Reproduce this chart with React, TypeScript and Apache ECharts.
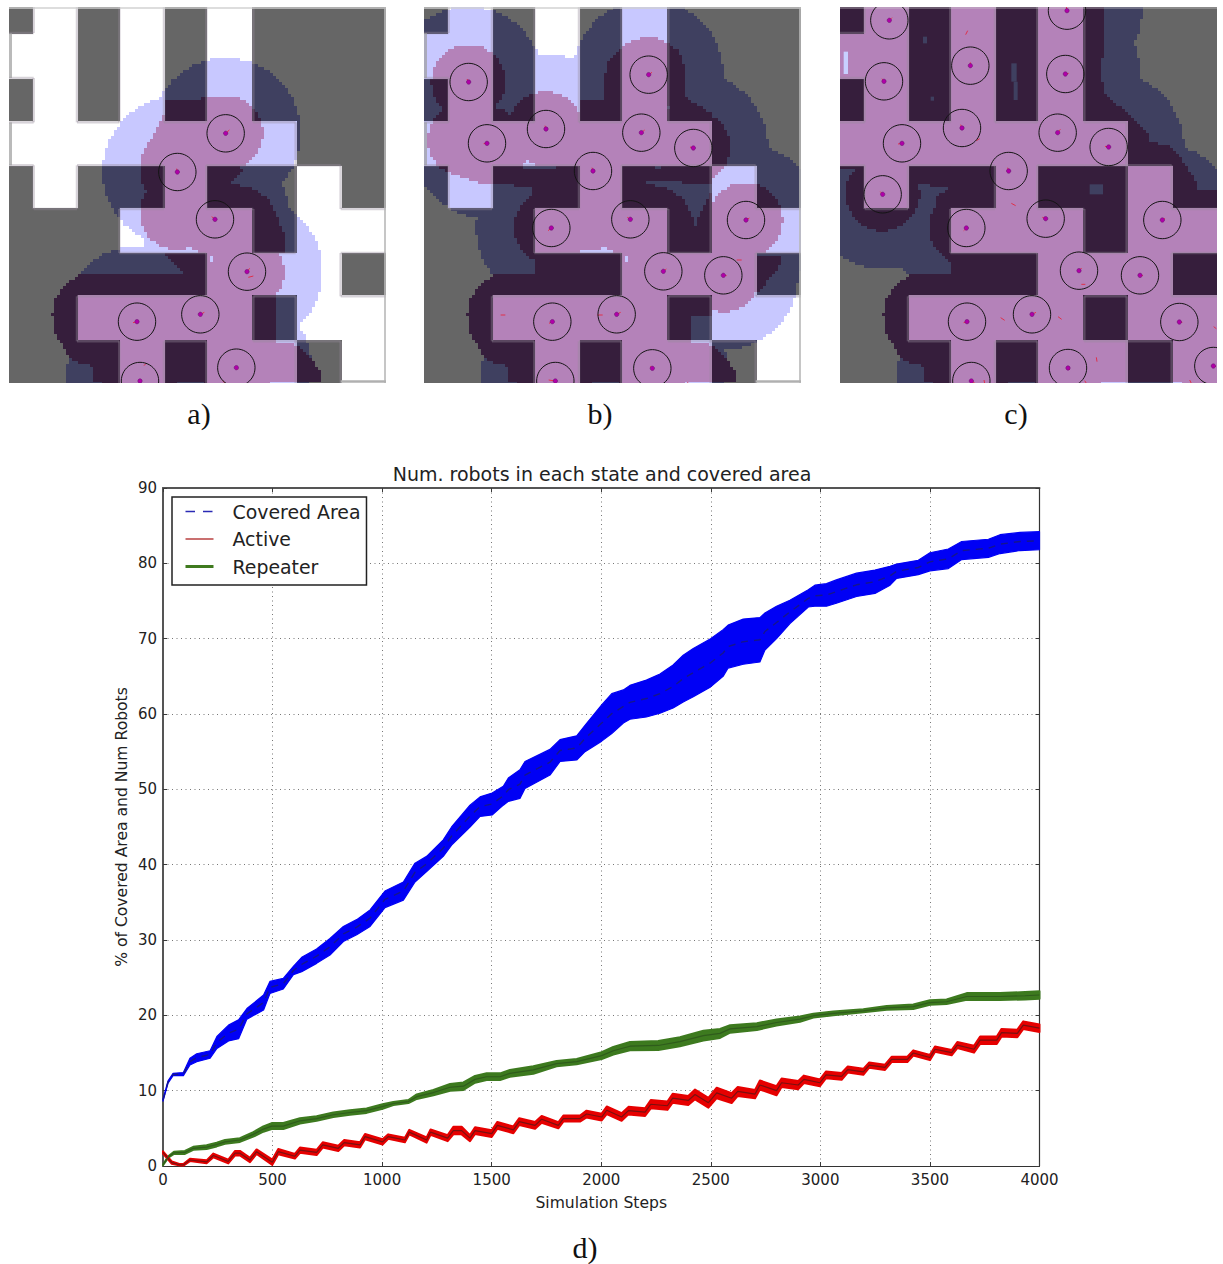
import React, { useEffect, useRef } from "react";
import * as echarts from "echarts";

// ---------- chart d) values ----------
const blueX = [0,23,46,93,123,154,215,246,299,345,383,459,488,549,595,633,701,762,823,884,945,1013,1097,1150,1203,1279,1317,1401,1447,1502,1553,1576,1629,1652,1766,1812,1888,1926,2002,2048,2101,2131,2206,2268,2328,2374,2420,2499,2556,2579,2648,2724,2747,2800,2861,2945,2975,3028,3073,3165,3249,3318,3348,3447,3500,3584,3645,3767,3820,3911,4000];
const blueUpper = [8.9,11.3,12.3,12.4,14.3,14.9,15.3,17.2,18.7,19.4,20.9,22.7,24.5,24.9,26.5,27.7,28.8,30.2,31.8,32.7,34,36.5,37.7,40.2,41.1,43.3,45,47.9,49,49.5,50.4,51.5,52.6,53.7,55.3,56.6,57.1,58.5,61.2,62.7,63.2,63.8,64.5,65.3,66.5,67.8,68.7,70,71.2,71.8,72.6,72.8,73.4,74.3,75.1,76.5,77.1,77.3,77.8,78.7,79.1,79.6,79.9,80.4,81.4,81.9,82.9,83.2,83.8,84.1,84.2];
const blueLower = [8.6,11,12,12,13.4,13.85,14.3,15.6,16.6,16.9,19.5,20.7,22.9,23.5,25.4,25.8,26.9,28,29.8,30.7,31.8,34.3,35.3,37.7,39.1,41.1,42.6,45,46.4,46.6,47.9,48.4,48.8,50.1,51.9,53.7,53.9,55,56.4,57.4,58.8,59.3,59.6,60.1,60.8,61.6,62.3,63.6,65,66.1,66.6,66.9,68.5,70,72,74.2,74.3,74.3,74.7,75.6,76,77.1,78,78.5,79,79.3,80.5,80.8,81.3,81.7,81.8];
const blueMean = [8.75,11.15,12.15,12.2,13.85,14.4,14.8,16.4,17.65,18.15,20.2,21.7,23.7,24.2,25.95,26.75,27.85,29.1,30.8,31.7,32.9,35.4,36.5,39,40.1,42.2,43.8,46.45,47.7,48.05,49.15,49.95,50.7,51.9,53.6,55.15,55.5,56.75,58.8,60.05,61,61.55,62.05,62.7,63.65,64.7,65.5,66.8,68.1,68.95,69.6,69.85,70.95,72.15,73.55,75.35,75.7,75.8,76.25,77.15,77.55,78.35,78.95,79.45,80.2,80.6,81.7,82,82.55,82.9,83];

const redX = [0,40,78,93,123,199,230,298,329,351,397,427,499,526,602,625,701,729,800,827,899,922,1002,1028,1104,1124,1203,1221,1299,1325,1363,1401,1424,1500,1526,1599,1626,1698,1728,1804,1827,1903,1933,2002,2025,2093,2124,2200,2226,2302,2326,2397,2428,2489,2527,2595,2623,2702,2724,2800,2823,2899,2925,2998,3026,3097,3125,3196,3223,3295,3325,3397,3424,3500,3523,3599,3625,3701,3729,3805,3827,3899,3926,4000];
const redMean = [1.8,.45,.15,.15,.8,.55,1.4,.6,1.7,1.7,.8,1.9,.5,1.9,1.3,2.1,1.8,2.8,2.35,3.1,2.8,3.9,3.2,3.9,3.45,4.5,3.45,4.5,3.7,4.7,4.7,3.7,4.7,4.3,5.4,4.8,5.9,5.4,6.2,5.4,6.3,6.3,6.9,6.5,7.4,6.5,7.35,7.15,8.2,8,9,8.7,9.5,8.4,9.7,9,9.9,9.55,10.75,10,11.05,10.75,11.5,11.05,12.1,11.9,12.8,12.5,13.4,13.1,14.15,14.15,15,14.4,15.5,15.05,16.05,15.5,16.7,16.7,17.7,17.6,18.7,18.3];
const redSpread = [.15,.15,.1,.1,.15,.2,.25,.25,.3,.3,.3,.3,.35,.35,.3,.35,.35,.35,.35,.35,.35,.35,.35,.3,.3,.3,.35,.35,.4,.5,.5,.4,.45,.45,.45,.45,.45,.45,.45,.4,.4,.4,.45,.45,.5,.5,.5,.5,.55,.55,.6,.6,.65,.65,.7,.65,.6,.55,.6,.6,.55,.55,.5,.45,.45,.45,.4,.4,.35,.35,.35,.35,.35,.35,.35,.35,.4,.45,.5,.5,.5,.5,.5,.5];

const greenX = [0,24,50,100,138,199,245,283,351,412,458,496,549,625,701,777,853,929,1002,1051,1120,1158,1234,1310,1371,1424,1477,1538,1583,1690,1796,1888,2002,2055,2131,2260,2359,2466,2542,2588,2710,2800,2907,2968,3059,3196,3303,3424,3500,3576,3668,3820,3934,4000];
const greenMean = [.15,1.2,1.75,1.8,2.35,2.5,2.85,3.2,3.45,4.2,4.9,5.3,5.3,6,6.3,6.8,7.1,7.35,7.9,8.3,8.55,9.2,9.75,10.45,10.6,11.5,11.85,11.85,12.3,12.75,13.6,13.85,14.65,15.3,15.9,16,16.5,17.3,17.6,18.2,18.5,19.05,19.5,19.95,20.25,20.6,21,21.15,21.7,21.8,22.5,22.5,22.6,22.7];
const greenSpread = [.05,.1,.15,.2,.2,.25,.25,.25,.25,.3,.35,.4,.4,.35,.3,.3,.3,.3,.3,.2,.2,.3,.35,.45,.5,.45,.45,.45,.45,.5,.35,.35,.45,.5,.55,.6,.6,.65,.6,.5,.45,.4,.35,.25,.25,.2,.25,.3,.3,.3,.45,.45,.5,.5];

const xTicks = { min: 0, max: 4000, interval: 500 };
const yTicks = { min: 0, max: 90, interval: 10 };
const legendNames = ["Covered Area", "Active", "Repeater"];
const panelLabels = ["a)", "b)", "c)", "d)"];

// ---------- map panels (coordinates read at 3x from crops of the picture) ----------
const wallRows = ["#.#.#.###", "..#.#.###", "#.#.#.###", ".......##", "#.##.##.#", "###...#..", "#####...#", "##....#..", "###.#..#."];
const wallXEdges = [0,74,204,331,465,592,733,860,995,1131];
const wallYEdges = [0,78,213,346,475,606,738,868,1003,1128];
const cropLeft = [26, 43, 51];
const cropX = [0, 410, 823];
const panelX = [9, 424, 840];

const robotsA = [[677,400,11,-10],[532,516,-2,-10],[645,658,-10,-8],[741,815,8,-10],[601,943,12,-6],[411,965,-12,3],[420,1143,0,0],[709,1103,5,5]];
const robotsB = [[176,246,-5,-9],[716,224,10,-7],[408,387,-3,-10],[694,398,10,-8],[231,430,-10,1],[850,444,-10,-3],[549,513,-3,-10],[424,684,-10,8],[661,658,-9,-6],[1008,660,10,-6],[760,814,9,-7],[940,826,10,1],[427,965,-10,5],[620,943,12,-6],[436,1143,-20,-3],[727,1105,-6,-6]];
const robotsC = [[199,61,8,-8],[732,32,-2,-12],[442,197,0,-10],[727,222,10,-2],[183,244,-6,-8],[417,384,-4,-10],[704,398,8,-10],[237,430,-12,2],[857,441,-11,-2],[557,513,-3,-10],[179,583,-7,-8],[430,684,-8,8],[668,656,-10,-4],[1018,660,8,-5],[768,812,8,-8],[951,826,9,1],[432,965,-10,3],[627,943,12,-6],[1069,966,9,1],[445,1143,10,6],[735,1104,6,6],[1171,1098,8,2]];
const robotSets = [robotsA, robotsB, robotsC];

const dashesA = [[745,832,760,828],[432,1097,438,1090],[668,1142,675,1150]];
const dashesB = [[272,945,286,945],[562,945,578,945],[980,780,995,780],[832,1147,836,1150]];
const dashesC = [[428,104,434,92],[460,422,470,416],[565,610,578,617],[775,853,787,853],[533,953,545,961],[705,950,716,958],[820,1072,822,1085],[1172,980,1180,986],[483,1140,485,1150],[785,1142,790,1150],[1100,1140,1105,1150]];
const dashSets = [dashesA, dashesB, dashesC];

const coveredDiscs = [[[530,640,111]], [[165,420,111],[240,440,115]], []];
const coveredPolys = [
  [
    [[240,822],[555,822],[490,757],[625,757],[625,1150],[280,1150],[275,1100],[220,1085],[195,1055],[165,1000],[155,945],[165,900],[190,860]],
    [[495,305],[680,290],[680,500],[425,500],[425,465],[465,395],[490,345]],
    [[626,505],[735,505],[695,550],[765,570],[805,600],[830,650],[855,710],[855,760],[625,760]],
    [[620,890],[830,890],[830,1030],[890,1035],[960,1110],[965,1150],[620,1150]],
  ],
  [
    [[780,145],[808,150],[830,295],[905,340],[905,400],[780,400]],
    [[635,145],[590,195],[580,300],[510,305],[510,365],[635,365]],
    [[248,505],[505,505],[505,625],[370,625],[370,565],[250,550]],
    [[375,760],[640,760],[640,830],[375,830]],
    [[780,890],[905,890],[905,950],[780,950]],
    [[1040,765],[1118,765],[1118,790],[1045,880]],
    [[645,505],[905,505],[905,555],[770,545],[710,540],[645,560]],
    [[905,575],[905,760],[855,760],[855,695],[870,640]],
  ],
  [
    [[51,22],[845,22],[845,165],[835,180],[835,230],[850,290],[915,340],[975,400],[980,425],[1040,440],[1085,490],[1115,540],[1125,570],[1182,575],[1182,1150],[640,1150],[640,760],[380,760],[335,680],[340,590],[380,565],[350,550],[255,550],[255,505],[51,505]],
  ],
];
const patchesC = [[300,110,12,20,"#3f4060"],[323,290,10,12,"#3f4060"],[565,190,16,55,"#3f4060"],[572,245,12,55,"#3f4060"],[800,553,40,30,"#3f4060"],[62,155,13,67,"#c8d0ff"]];

const COLORS = {
  white: "#ffffff", blue: "#c8c8ff", purple: "#b482b9",
  wall: "#666666", wallBlue: "#3f4060", wallPurple: "#361e3c",
};

function inPoly(x: number, y: number, p: number[][]) {
  let c = false;
  for (let i = 0, j = p.length - 1; i < p.length; j = i++) {
    if (p[i][1] > y !== p[j][1] > y && x < ((p[j][0] - p[i][0]) * (y - p[i][1])) / (p[j][1] - p[i][1]) + p[i][0]) c = !c;
  }
  return c;
}
function isWall(x: number, y: number) {
  let col = 0, row = 0;
  while (col < 8 && x >= wallXEdges[col + 1]) col++;
  while (row < 8 && y >= wallYEdges[row + 1]) row++;
  return wallRows[row][col] === "#";
}

function panelElements(idx: number) {
  const els: any[] = [];
  const sens: number[][] = [];
  const cov: number[][] = [];
  const polys: number[][][] = [];
  for (let k = 0; k <= idx; k++) {
    robotSets[k].forEach((r) => {
      sens.push([r[0] - cropLeft[k], r[1] - 22, 225]);
      cov.push([r[0] - cropLeft[k], r[1] - 22, 111]);
    });
    coveredDiscs[k].forEach((d) => cov.push([d[0] - cropLeft[k], d[1] - 22, d[2]]));
    coveredPolys[k].forEach((p) => polys.push(p.map((q) => [q[0] - cropLeft[k], q[1] - 22])));
  }
  const px0 = panelX[idx];
  const py0 = 7;
  const step = 3;
  const W = 377;
  for (let py = 0; py < 376; py += step) {
    let runStart = 0, runColor = "";
    const flush = (end: number) => {
      if (runColor) els.push({ type: "rect", silent: true, shape: { x: px0 + runStart, y: py0 + py, width: end - runStart, height: Math.min(step, 376 - py) }, style: { fill: runColor } });
    };
    for (let px = 0; px < W; px += step) {
      const zx = (px + step / 2) * 3, zy = (py + step / 2) * 3;
      const covered = cov.some((d) => (zx - d[0]) ** 2 + (zy - d[1]) ** 2 <= d[2] * d[2]) || polys.some((p) => inPoly(zx, zy, p));
      const sensed = covered || sens.some((d) => (zx - d[0]) ** 2 + (zy - d[1]) ** 2 <= d[2] * d[2]);
      const w = isWall(zx, zy);
      const color = covered ? (w ? COLORS.wallPurple : COLORS.purple) : sensed ? (w ? COLORS.wallBlue : COLORS.blue) : w ? COLORS.wall : COLORS.white;
      if (color !== runColor) {
        flush(px);
        runStart = px; runColor = color;
      }
    }
    flush(W);
  }
  // soft seam where a wall meets a corridor, as in the blurred original
  const seam = { stroke: "rgba(150,140,155,0.38)", lineWidth: 2.5 };
  const edgeX = (i: number) => px0 + wallXEdges[i] / 3;
  const edgeY = (j: number) => py0 + wallYEdges[j] / 3;
  for (let j = 0; j < 9; j++) {
    for (let i = 0; i < 9; i++) {
      const here = wallRows[j][i];
      if (i < 8 && wallRows[j][i + 1] !== here) els.push({ type: "line", silent: true, shape: { x1: edgeX(i + 1), y1: edgeY(j), x2: edgeX(i + 1), y2: edgeY(j + 1) }, style: seam });
      if (j < 8 && wallRows[j + 1][i] !== here) els.push({ type: "line", silent: true, shape: { x1: edgeX(i), y1: edgeY(j + 1), x2: edgeX(i + 1), y2: edgeY(j + 1) }, style: seam });
      if (i === 0 && here === "." && idx < 2) els.push({ type: "line", silent: true, shape: { x1: px0 + 1.5, y1: edgeY(j), x2: px0 + 1.5, y2: edgeY(j + 1) }, style: { stroke: "#9c9c9c", lineWidth: 3, opacity: 0.7 } });
    }
  }
  if (idx === 2) {
    patchesC.forEach((p: any) => els.push({ type: "rect", silent: true, shape: { x: cropX[2] + p[0] / 3, y: p[1] / 3, width: p[2] / 3, height: p[3] / 3 }, style: { fill: p[4] } }));
  }
  // pale frame lines along the top and right of the maps
  els.push({ type: "line", silent: true, shape: { x1: px0, y1: py0 + 1, x2: px0 + W, y2: py0 + 1 }, style: { stroke: "#cfcfcf", lineWidth: 2, opacity: idx === 2 ? 0.35 : 0.7 } });
  if (idx < 2) {
    els.push({ type: "line", silent: true, shape: { x1: px0 + W - 1, y1: py0, x2: px0 + W - 1, y2: py0 + 376 }, style: { stroke: "#b8b8b8", lineWidth: 2, opacity: 0.8 } });
    els.push({ type: "line", silent: true, shape: { x1: px0 + wallXEdges[8] / 3, y1: py0 + 374.5, x2: px0 + W, y2: py0 + 374.5 }, style: { stroke: "#b0b0b0", lineWidth: 2.5 } });
  }

  const ox = cropX[idx];
  dashSets[idx].forEach((d) => els.push({ type: "line", silent: true, shape: { x1: ox + d[0] / 3, y1: d[1] / 3, x2: ox + d[2] / 3, y2: d[3] / 3 }, style: { stroke: "#e0304a", lineWidth: 1 } }));
  robotSets[idx].forEach((r) => {
    const cx = ox + r[0] / 3, cy = r[1] / 3;
    els.push({ type: "circle", silent: true, shape: { cx, cy, r: 18.7 }, style: { fill: "none", stroke: "#141414", lineWidth: 1 } });
    els.push({ type: "line", silent: true, shape: { x1: cx, y1: cy, x2: cx + r[2] / 3, y2: cy + r[3] / 3 }, style: { stroke: "#e8304a", lineWidth: 1 } });
    els.push({ type: "circle", silent: true, shape: { cx, cy, r: 2.2 }, style: { fill: "#b000a8", stroke: "#60106a", lineWidth: 0.5 } });
  });
  return els;
}

function buildGraphic() {
  const children: any[] = [];
  [0, 1, 2].forEach((i) => children.push(...panelElements(i)));
  // masks: circles that run past the edge of a map are cut off there
  children.push({ type: "rect", silent: true, shape: { x: 0, y: 0, width: 1223, height: 7 }, style: { fill: "#fff" } });
  children.push({ type: "rect", silent: true, shape: { x: 0, y: 383, width: 1223, height: 18 }, style: { fill: "#fff" } });
  children.push({ type: "rect", silent: true, shape: { x: 1217, y: 0, width: 6, height: 400 }, style: { fill: "#fff" } });
  const labelPos = [[199, 413], [600, 413], [1016, 413], [585, 1247]];
  panelLabels.forEach((t, i) =>
    children.push({ type: "text", silent: true, x: labelPos[i][0], y: labelPos[i][1], style: { text: t, fill: "#111", font: '30px "Liberation Serif"', textAlign: "center", textVerticalAlign: "middle" } })
  );
  return [{ type: "group", silent: true, children }];
}

const TEXT = "#222222";
const FONT = '"DejaVu Sans"';

function pairs(xs: number[], ys: number[]) { return xs.map((x, i) => [x, ys[i]]); }

// the filled spread of a series: one polygon through the upper and the lower edge
function bandSeries(name: string, xs: number[], low: number[], high: number[], color: string, edge: number) {
  return {
    name, type: "custom", silent: true, z: 3,
    coordinateSystem: "cartesian2d",
    encode: { x: 0, y: [1, 2] },
    data: xs.map((x, i) => [x, low[i], high[i]]),
    renderItem: (params: any, api: any) => {
      if (params.dataIndex !== 0) return null;
      const top = xs.map((x, i) => api.coord([x, high[i]]));
      const bottom = xs.map((x, i) => api.coord([x, low[i]])).reverse();
      return { type: "polygon", shape: { points: top.concat(bottom) }, style: { fill: color, stroke: color, lineWidth: edge, lineJoin: "round" } };
    },
  };
}

function buildOption() {
  const redLow = redMean.map((m, i) => Math.max(0, m - redSpread[i]));
  const redHigh = redMean.map((m, i) => m + redSpread[i]);
  const greenLow = greenMean.map((m, i) => Math.max(0, m - greenSpread[i]));
  const greenHigh = greenMean.map((m, i) => m + greenSpread[i]);
  const strong = { color: "#555555", width: 2 };
  const thin = { color: "#333333", width: 1.2 };
  const tick = { show: true, inside: true, length: 4, lineStyle: { color: "#3a3a3a", width: 1 } };
  const plain = (v: number) => String(v);
  const noSymbol = { opacity: 0 };
  return {
    animation: false,
    backgroundColor: "#ffffff",
    textStyle: { fontFamily: FONT },
    title: { text: "Num. robots in each state and covered area", left: 602, top: 464, textAlign: "center", padding: 0, textStyle: { fontFamily: FONT, fontSize: 19, fontWeight: "normal", color: TEXT } },
    legend: {
      data: [
        { name: legendNames[0], itemStyle: noSymbol, lineStyle: { color: "#2a2ab4", width: 1.5, type: [9.5, 8], opacity: 1 } },
        { name: legendNames[1], itemStyle: noSymbol, lineStyle: { color: "#b84040", width: 1.5, opacity: 1 } },
        { name: legendNames[2], itemStyle: noSymbol, lineStyle: { color: "#3f7a1f", width: 3, opacity: 1 } },
      ],
      orient: "vertical", left: 172, top: 497, itemWidth: 28, itemHeight: 14, itemGap: 8.5,
      padding: [5, 6, 9, 12], align: "left",
      backgroundColor: "#ffffff", borderColor: "#222222", borderWidth: 1.5, borderRadius: 0,
      textStyle: { fontFamily: FONT, fontSize: 18.9, color: TEXT, padding: [0, 0, 0, 14] },
      selectedMode: false, z: 20,
    },
    grid: { left: 163, top: 488, width: 876.5, height: 678, containLabel: false },
    xAxis: [
      { type: "value", ...xTicks, position: "bottom", name: "Simulation Steps", nameLocation: "middle", nameGap: 29, nameTextStyle: { fontFamily: FONT, fontSize: 15.6, color: TEXT },
        axisLine: { show: true, onZero: false, lineStyle: thin }, axisTick: tick, axisLabel: { fontFamily: FONT, fontSize: 15, color: TEXT, margin: 6, formatter: plain },
        splitLine: { show: true, lineStyle: { type: [1, 3.5], color: "#777777", width: 1 } } },
      { type: "value", ...xTicks, position: "top", axisLine: { show: true, onZero: false, lineStyle: strong }, axisTick: tick, axisLabel: { show: false }, splitLine: { show: false } },
    ],
    yAxis: [
      { type: "value", ...yTicks, position: "left", name: "% of Covered Area and Num Robots", nameLocation: "middle", nameGap: 33, nameMoveOverlap: false, nameTextStyle: { fontFamily: FONT, fontSize: 15.6, color: TEXT },
        axisLine: { show: true, onZero: false, lineStyle: strong }, axisTick: tick, axisLabel: { fontFamily: FONT, fontSize: 15, color: TEXT, margin: 6, formatter: plain },
        splitLine: { show: true, lineStyle: { type: [1, 3.5], color: "#777777", width: 1 } } },
      { type: "value", ...yTicks, position: "right", axisLine: { show: true, onZero: false, lineStyle: thin }, axisTick: tick, axisLabel: { show: false }, splitLine: { show: false } },
    ],
    series: [
      bandSeries("Repeater spread", greenX, greenLow, greenHigh, "#3d7a1f", 2),
      bandSeries("Active spread", redX, redLow, redHigh, "#e60000", 2),
      bandSeries("Covered Area spread", blueX, blueLower, blueUpper, "#0000f5", 1.2),
      { name: legendNames[0], type: "line", symbol: "none", silent: true, z: 5, lineStyle: { color: "#15158c", width: 1.4, type: [7, 6] }, itemStyle: { color: "#15158c" }, data: pairs(blueX, blueMean) },
      { name: legendNames[1], type: "line", symbol: "none", silent: true, z: 5, lineStyle: { color: "#7a1010", width: 1.2 }, itemStyle: { color: "#7a1010" }, data: pairs(redX, redMean) },
      { name: legendNames[2], type: "line", symbol: "none", silent: true, z: 5, lineStyle: { color: "#2f5c1c", width: 1.2 }, itemStyle: { color: "#2f5c1c" }, data: pairs(greenX, greenMean) },
    ],
    graphic: buildGraphic(),
  };
}

export default function App() {
  const ref = useRef<HTMLDivElement>(null);
  useEffect(() => {
    if (!ref.current) return;
    const chart = echarts.init(ref.current, undefined, { renderer: "svg" });
    chart.setOption(buildOption() as any);
    return () => chart.dispose();
  }, []);
  return <div ref={ref} style={{ position: "absolute", left: 0, top: 0, width: 1223, height: 1264 }} />;
}
